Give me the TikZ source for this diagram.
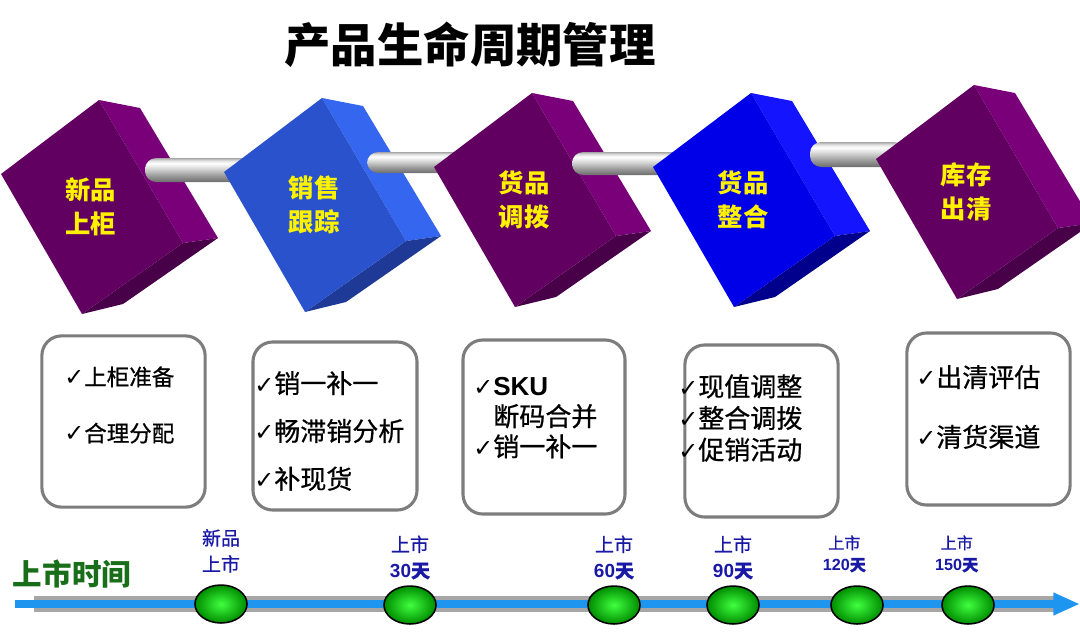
\documentclass[tikz,border=0pt]{standalone}
\usepackage{fontspec}
\setmainfont{Noto Sans CJK SC}
\newfontfamily\heifont{Noto Sans CJK SC}[FakeBold=0.7]
\newfontfamily\arialfont{Liberation Sans}
\newfontfamily\symfont{DejaVu Sans}
\usepackage{xcolor}
\usepackage{tikz}
\usetikzlibrary{shapes, arrows.meta, positioning, calc}

\definecolor{purplefront}{RGB}{98,0,98}
\definecolor{purpleside}{RGB}{122,0,122}
\definecolor{purplebottom}{RGB}{72,0,72}
\definecolor{royalfront}{RGB}{42,82,204}
\definecolor{royalside}{RGB}{52,102,240}
\definecolor{royalbottom}{RGB}{30,58,150}
\definecolor{deepfront}{RGB}{0,0,232}
\definecolor{deepside}{RGB}{20,20,255}
\definecolor{deepbottom}{RGB}{0,0,140}
\definecolor{boxgray}{RGB}{125,125,125}
\definecolor{labelblue}{RGB}{25,25,165}
\definecolor{timegreen}{RGB}{25,110,25}
\definecolor{lineblue}{RGB}{30,150,240}

\pgfdeclareverticalshading{rodshade}{100bp}{color(0bp)=(gray!85!black); color(25bp)=(gray!85!black);
  color(38bp)=(gray!80); color(52bp)=(gray!35); color(64bp)=(white); color(70bp)=(gray!25);
  color(75bp)=(gray!70); color(100bp)=(gray!70)}

% one tilted cube: name, centre, front, side, bottom, text
\newcommand{\lifecube}[6]{%
  \begin{scope}[shift={(#2)}]
    \fill[#4] (8,-107) -- (49,-99) -- (127,31) -- (92,36) -- cycle;
    \fill[#5] (92,36) -- (127,31) -- (32,97) -- (-9,107) -- cycle;
    \fill[#3] (8,-107) -- (-90,-33) -- (-9,107) -- (92,36) -- cycle;
  \end{scope}
  \node[cubetext] (#1) at (#2) {#6};
}
\newcommand{\chk}{{\symfont\fontsize{17}{17}\selectfont ✓}}

\begin{document}
\begin{tikzpicture}[
  x=0.025cm, y=-0.025cm,
  cubetext/.style={text=yellow, align=center,
                   font=\bfseries\fontsize{18}{24}\selectfont},
  rod/.style={shading=rodshade, rounded corners=8pt},
  infobox/.style={rectangle, draw=boxgray, line width=2.2pt,
                  rounded corners=14pt, minimum height=4.3cm},
  itemlist/.style={anchor=west, align=left, inner sep=0pt},
  milestone/.style={ellipse, draw=black, line width=1.1pt,
                    inner color=green!75!white, outer color=green!55!black,
                    minimum width=37pt, minimum height=27pt},
  daylabel/.style={text=labelblue, align=center, inner sep=0pt,
                   font=\heifont\fontsize{13.5}{18.5}\selectfont},
  smalllabel/.style={daylabel, font=\heifont\fontsize{11.5}{15.5}\selectfont}
]
  \useasboundingbox (0,0) rectangle (1080,640);

  \node[font=\bfseries\fontsize{33}{33}\selectfont] (title) at (470,45) {产品生命周期管理};

  % cube centres
  \coordinate (p1) at (91,207);
  \coordinate (p2) at (314,205);
  \coordinate (p3) at (524,200);
  \coordinate (p4) at (743,200);
  \coordinate (p5) at (966,192);

  % cubes and rods
  \lifecube{c1}{p1}{purplefront}{purpleside}{purplebottom}{新品\\上柜}
  \shade[rod] ($(c1)+(54,-49)$) rectangle ($(p2)+(-52,-23)$);
  \lifecube{c2}{p2}{royalfront}{royalside}{royalbottom}{销售\\跟踪}
  \shade[rod] ($(c2)+(53,-53)$) rectangle ($(p3)+(-54,-27)$);
  \lifecube{c3}{p3}{purplefront}{purpleside}{purplebottom}{货品\\调拨}
  \shade[rod] ($(c3)+(48,-48)$) rectangle ($(p4)+(-58,-25)$);
  \lifecube{c4}{p4}{deepfront}{deepside}{deepbottom}{货品\\整合}
  \shade[rod] ($(c4)+(67,-58)$) rectangle ($(p5)+(-61,-25)$);
  \lifecube{c5}{p5}{purplefront}{purpleside}{purplebottom}{库存\\出清}

  % boxes
  \node[infobox, minimum width=4.08cm, minimum height=4.28cm] (b1) at (123.5,421.5) {};
  \node[infobox, minimum width=4.1cm, minimum height=4.2cm] (b2) at (335,426) {};
  \node[infobox, minimum width=4.05cm, minimum height=4.35cm] (b3) at (544,427) {};
  \node[infobox, minimum width=3.83cm, minimum height=4.3cm] (b4) at (761.5,431) {};
  \node[infobox, minimum width=4.08cm, minimum height=4.3cm] (b5) at (988.5,419) {};

  \node[itemlist, font=\heifont\fontsize{16}{40}\selectfont] (t1) at (64,405)
    {\chk{}上柜准备\\\chk{}合理分配};
  \node[itemlist, font=\heifont\fontsize{18.5}{34}\selectfont] (t2) at (254,431)
    {\chk{}销一补一\\\chk{}畅滞销分析\\\chk{}补现货};
  \node[itemlist, font=\heifont\fontsize{18.5}{21.5}\selectfont] (t3) at (473,418)
    {\chk{}{\arialfont\bfseries SKU}\\\phantom{\chk}断码合并\\\chk{}销一补一};
  \node[itemlist, font=\heifont\fontsize{18.5}{22.5}\selectfont] (t4) at (678,418)
    {\chk{}现值调整\\\chk{}整合调拨\\\chk{}促销活动};
  \node[itemlist, font=\heifont\fontsize{18.5}{42.5}\selectfont] (t5) at (916,407)
    {\chk{}出清评估\\\chk{}清货渠道};

  % time line
  \node[text=timegreen, font=\bfseries\fontsize{21}{21}\selectfont] (axis) at (72,574) {上市时间};
  \coordinate (tl0) at (15,604);
  \coordinate (tl1) at (1080,604);
  \draw[line width=12pt, draw=gray!70] ($(tl0)+(19,0)$) -- ($(tl1)+(-26,0)$);
  \draw[line width=5pt, draw=lineblue, -{Triangle[length=19pt, width=15pt]}] (tl0) -- (tl1);

  \node[milestone] (m0) at (221,604) {};
  \node[milestone] (m1) at (410,605) {};
  \node[milestone] (m2) at (614,605) {};
  \node[milestone] (m3) at (733,605) {};
  \node[milestone] (m4) at (857,605) {};
  \node[milestone] (m5) at (968,605) {};

  \node[daylabel, above=8pt of m0] (d0) {新品\\上市};
  \node[daylabel, above=4pt of m1] (d1) {上市\\{\arialfont\bfseries 30}\textbf{天}};
  \node[daylabel, above=4pt of m2] (d2) {上市\\{\arialfont\bfseries 60}\textbf{天}};
  \node[daylabel, above=4pt of m3] (d3) {上市\\{\arialfont\bfseries 90}\textbf{天}};
  \node[smalllabel, above=9pt of m4, xshift=-9pt] (d4) {上市\\{\arialfont\bfseries 120}\textbf{天}};
  \node[smalllabel, above=9pt of m5, xshift=-8pt] (d5) {上市\\{\arialfont\bfseries 150}\textbf{天}};
\end{tikzpicture}
\end{document}
